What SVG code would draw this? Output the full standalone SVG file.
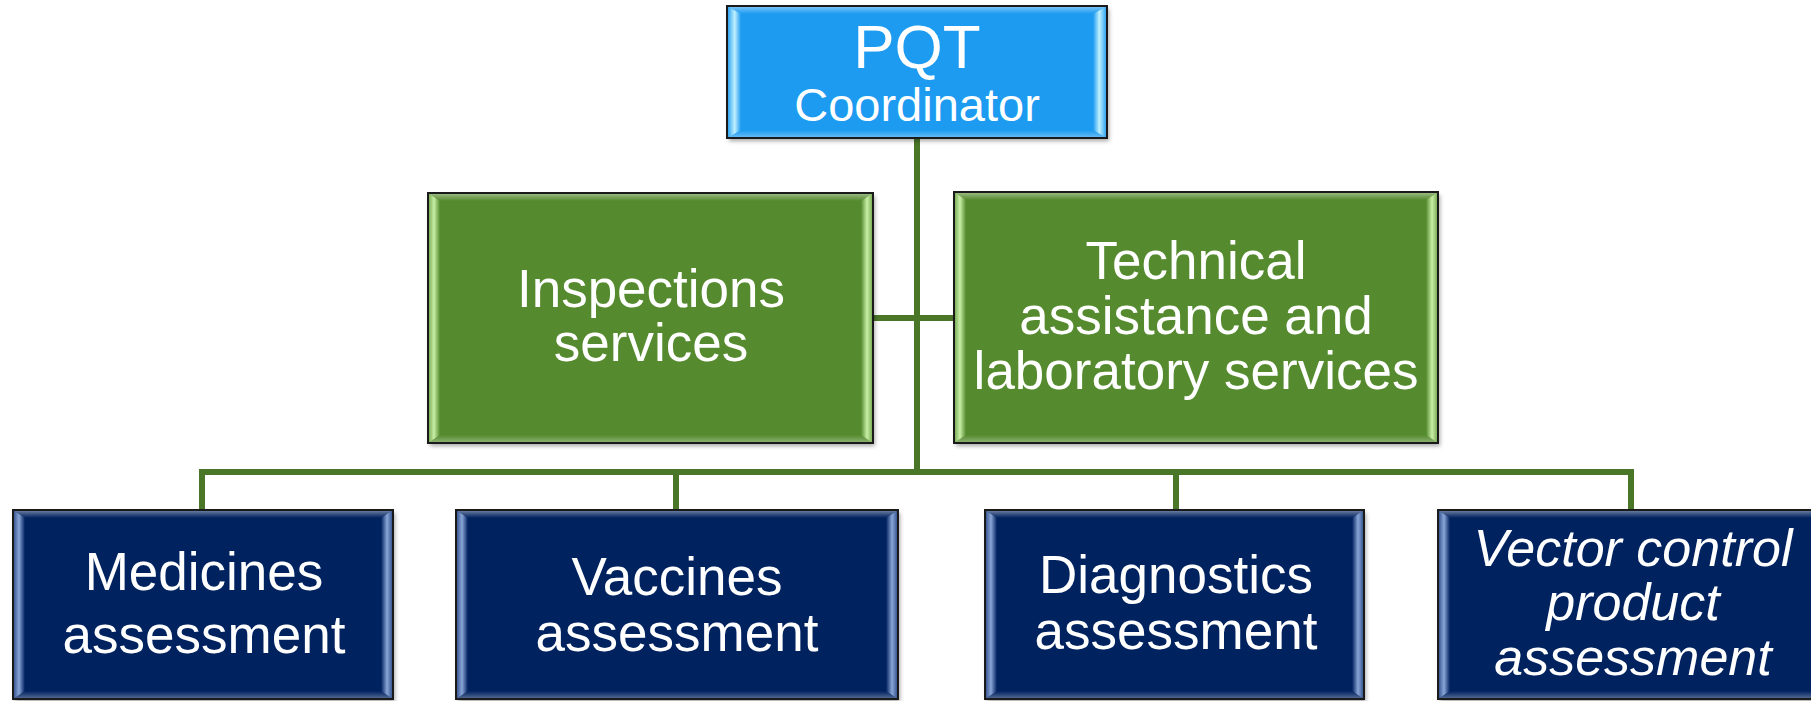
<svg xmlns="http://www.w3.org/2000/svg" width="1811" height="701" viewBox="0 0 1811 701">
<style>
.lbl{font-family:"Liberation Sans",Arial,Helvetica,sans-serif;fill:#fff;text-anchor:middle}
.it{font-style:italic}
.frame{fill:none;stroke:#1a1a1a;stroke-width:2}
.conn{fill:none;stroke:#4a7628;stroke-width:6;stroke-linejoin:miter}
.blue{fill:#1d9bf0}.green{fill:#548b2f}.navy{fill:#00205f}
</style>
<defs>
<filter id="sh" x="-5%" y="-5%" width="110%" height="115%">
<feDropShadow dx="2" dy="3" stdDeviation="2" flood-color="#000" flood-opacity="0.35"/>
</filter>
<linearGradient id="bL" x1="0" x2="1" y1="0" y2="0"><stop offset="0" stop-color="#1d9bf0"/><stop offset="0.55" stop-color="#c0f0ff"/><stop offset="1" stop-color="#1d9bf0"/></linearGradient>
<linearGradient id="bR" x1="1" x2="0" y1="0" y2="0"><stop offset="0" stop-color="#1d9bf0"/><stop offset="0.55" stop-color="#c0f0ff"/><stop offset="1" stop-color="#1d9bf0"/></linearGradient>
<linearGradient id="gL" x1="0" x2="1" y1="0" y2="0"><stop offset="0" stop-color="#6fa34a"/><stop offset="0.5" stop-color="#c8efa6"/><stop offset="1" stop-color="#548b2f"/></linearGradient>
<linearGradient id="gR" x1="1" x2="0" y1="0" y2="0"><stop offset="0" stop-color="#6fa34a"/><stop offset="0.5" stop-color="#c8efa6"/><stop offset="1" stop-color="#548b2f"/></linearGradient>
<linearGradient id="nL" x1="0" x2="1" y1="0" y2="0"><stop offset="0" stop-color="#2a4a85"/><stop offset="0.5" stop-color="#8aa6d8"/><stop offset="1" stop-color="#00205f"/></linearGradient>
<linearGradient id="nR" x1="1" x2="0" y1="0" y2="0"><stop offset="0" stop-color="#2a4a85"/><stop offset="0.5" stop-color="#8aa6d8"/><stop offset="1" stop-color="#00205f"/></linearGradient>
<linearGradient id="tb" x1="0" x2="0" y1="0" y2="1"><stop offset="0" stop-color="#fff" stop-opacity="0.45"/><stop offset="1" stop-color="#fff" stop-opacity="0"/></linearGradient>
<linearGradient id="bb" x1="0" x2="0" y1="1" y2="0"><stop offset="0" stop-color="#fff" stop-opacity="0.35"/><stop offset="1" stop-color="#fff" stop-opacity="0"/></linearGradient>
</defs>
<rect width="1811" height="701" fill="#fff"/>

<g id="connectors">
<path class="conn" d="M917 138 V472"/>
<path class="conn" d="M873 318 H954"/>
<path class="conn" d="M202 510 V472 H1631 V510"/>
<path class="conn" d="M676 472 V510"/>
<path class="conn" d="M1176 472 V510"/>
</g>

<g id="pqt">
<rect class="blue" x="727" y="6" width="380" height="132" filter="url(#sh)"/>
<polygon points="727,6 741,14 741,130 727,138" fill="url(#bL)"/>
<polygon points="1107,6 1093,14 1093,130 1107,138" fill="url(#bR)"/>
<polygon points="727,6 1107,6 1093,14 741,14" fill="url(#tb)"/>
<polygon points="727,138 1107,138 1093,130 741,130" fill="url(#bb)"/>
<rect class="frame" x="727" y="6" width="380" height="132"/>
<text class="lbl" x="917" y="68" font-size="62">PQT</text>
<text class="lbl" x="917" y="121" font-size="47">Coordinator</text>
</g>

<g id="inspections">
<rect class="green" x="428" y="193" width="445" height="250" filter="url(#sh)"/>
<polygon points="428,193 440,201 440,435 428,443" fill="url(#gL)"/>
<polygon points="873,193 861,201 861,435 873,443" fill="url(#gR)"/>
<polygon points="428,193 873,193 861,201 440,201" fill="url(#tb)"/>
<polygon points="428,443 873,443 861,435 440,435" fill="url(#bb)"/>
<rect class="frame" x="428" y="193" width="445" height="250"/>
<text class="lbl" x="651" y="307" font-size="53">Inspections</text>
<text class="lbl" x="651" y="361" font-size="53">services</text>
</g>

<g id="technical">
<rect class="green" x="954" y="192" width="484" height="251" filter="url(#sh)"/>
<polygon points="954,192 966,200 966,435 954,443" fill="url(#gL)"/>
<polygon points="1438,192 1426,200 1426,435 1438,443" fill="url(#gR)"/>
<polygon points="954,192 1438,192 1426,200 966,200" fill="url(#tb)"/>
<polygon points="954,443 1438,443 1426,435 966,435" fill="url(#bb)"/>
<rect class="frame" x="954" y="192" width="484" height="251"/>
<text class="lbl" x="1196" y="279" font-size="53">Technical</text>
<text class="lbl" x="1196" y="334" font-size="53">assistance and</text>
<text class="lbl" x="1196" y="389" font-size="53">laboratory services</text>
</g>

<g id="medicines">
<rect class="navy" x="13" y="510" width="380" height="189" filter="url(#sh)"/>
<polygon points="13,510 25,518 25,691 13,699" fill="url(#nL)"/>
<polygon points="393,510 381,518 381,691 393,699" fill="url(#nR)"/>
<polygon points="13,510 393,510 381,518 25,518" fill="url(#tb)"/>
<polygon points="13,699 393,699 381,691 25,691" fill="url(#bb)"/>
<rect class="frame" x="13" y="510" width="380" height="189"/>
<text class="lbl" x="204" y="590" font-size="53">Medicines</text>
<text class="lbl" x="204" y="653" font-size="53">assessment</text>
</g>

<g id="vaccines">
<rect class="navy" x="456" y="510" width="442" height="189" filter="url(#sh)"/>
<polygon points="456,510 468,518 468,691 456,699" fill="url(#nL)"/>
<polygon points="898,510 886,518 886,691 898,699" fill="url(#nR)"/>
<polygon points="456,510 898,510 886,518 468,518" fill="url(#tb)"/>
<polygon points="456,699 898,699 886,691 468,691" fill="url(#bb)"/>
<rect class="frame" x="456" y="510" width="442" height="189"/>
<text class="lbl" x="677" y="595" font-size="53">Vaccines</text>
<text class="lbl" x="677" y="651" font-size="53">assessment</text>
</g>

<g id="diagnostics">
<rect class="navy" x="985" y="510" width="379" height="189" filter="url(#sh)"/>
<polygon points="985,510 997,518 997,691 985,699" fill="url(#nL)"/>
<polygon points="1364,510 1352,518 1352,691 1364,699" fill="url(#nR)"/>
<polygon points="985,510 1364,510 1352,518 997,518" fill="url(#tb)"/>
<polygon points="985,699 1364,699 1352,691 997,691" fill="url(#bb)"/>
<rect class="frame" x="985" y="510" width="379" height="189"/>
<text class="lbl" x="1176" y="593" font-size="53">Diagnostics</text>
<text class="lbl" x="1176" y="649" font-size="53">assessment</text>
</g>

<g id="vector">
<rect class="navy" x="1438" y="510" width="390" height="189" filter="url(#sh)"/>
<polygon points="1438,510 1450,518 1450,691 1438,699" fill="url(#nL)"/>
<polygon points="1438,510 1828,510 1816,518 1450,518" fill="url(#tb)"/>
<polygon points="1438,699 1828,699 1816,691 1450,691" fill="url(#bb)"/>
<rect class="frame" x="1438" y="510" width="390" height="189"/>
<text class="lbl it" x="1633" y="566" font-size="52">Vector control</text>
<text class="lbl it" x="1633" y="620" font-size="52">product</text>
<text class="lbl it" x="1633" y="675" font-size="52">assessment</text>
</g>
</svg>
